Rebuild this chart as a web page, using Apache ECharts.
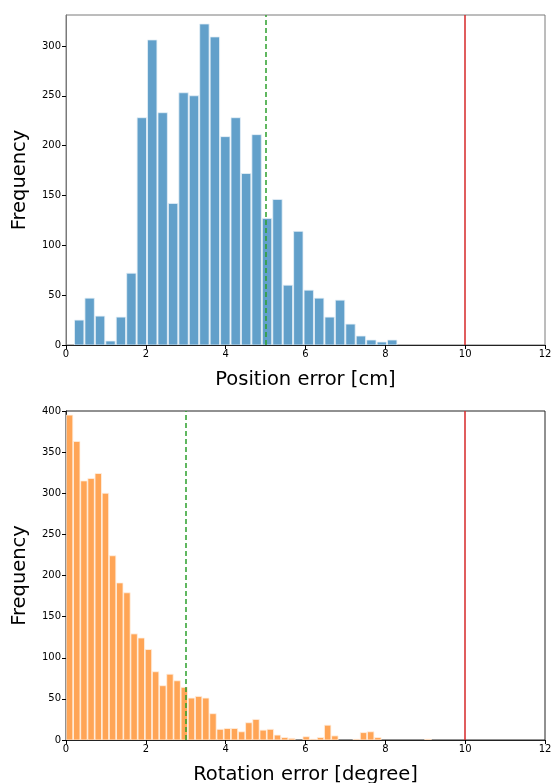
<!DOCTYPE html>
<html>
<head>
<meta charset="utf-8">
<script src="https://cdn.jsdelivr.net/npm/echarts@6/dist/echarts.min.js"></script>
<style>
html,body{margin:0;padding:0;background:#fff;}
#c{width:552px;height:783px;}
</style>
</head>
<body>
<div id="c"></div>
<script>
// ---- Data ----
const posBinStart = 0.2;
const posBinWidth = 0.2614;
const posCounts = [25, 47, 29, 4, 28, 72, 228, 306, 233, 142, 253, 250, 322, 309, 209,
                   228, 172, 211, 127, 146, 60, 114, 55, 47, 28, 45, 21, 9, 5, 3, 5];

const rotBinStart = 0.0;
const rotBinWidth = 0.1796;
const rotCounts = [395, 363, 315, 318, 324, 300, 224, 191, 179, 129, 124, 110, 83, 66, 80, 72,
                   64, 51, 53, 51, 32, 13, 14, 14, 10, 21, 25, 12, 13, 6, 3, 2, 0, 4,
                   1, 3, 18, 5, 0, 0, 1, 9, 10, 3, 0, 0, 0, 0, 0, 0, 1];

const xTicks = [0, 2, 4, 6, 8, 10, 12];
const posYTicks = [0, 50, 100, 150, 200, 250, 300];
const rotYTicks = [0, 50, 100, 150, 200, 250, 300, 350, 400];

const posThreshold = 5;    // green dashed
const posLimit = 10;       // red
const rotThreshold = 3;
const rotLimit = 10;

// ---- Build series data ----
function bins(start, width, counts) {
  return counts.map((c, i) => [start + i * width, start + (i + 1) * width, c]);
}

const FONT = 'DejaVu Sans';

function renderBar(color, edge) {
  return function (params, api) {
    const x0 = api.value(0), x1 = api.value(1), v = api.value(2);
    if (!v) return null;
    const w = x1 - x0;
    const a = api.coord([x0 + w * 0.05, v]);
    const b = api.coord([x1 - w * 0.05, 0]);
    return {
      type: 'rect',
      shape: { x: a[0], y: a[1], width: b[0] - a[0], height: b[1] - a[1] },
      style: { fill: color, stroke: edge, lineWidth: 0.8 }
    };
  };
}

function xAxisCfg(gridIndex, name, lineColor) {
  return {
    type: 'value', gridIndex, min: 0, max: 12, interval: 2,
    name, nameLocation: 'middle', nameGap: 25,
    nameTextStyle: { fontFamily: FONT, fontSize: 19.5, color: '#000' },
    axisLine: { show: true, onZero: false, lineStyle: { color: lineColor, width: 1 } },
    axisTick: { show: true, length: 4, customValues: xTicks, lineStyle: { color: '#000' } },
    axisLabel: { fontFamily: FONT, fontSize: 10, color: '#000', margin: 4, customValues: xTicks },
    splitLine: { show: false }
  };
}

function yAxisCfg(gridIndex, max, ticks, lineColor) {
  return {
    type: 'value', gridIndex, min: 0, max,
    name: 'Frequency', nameLocation: 'middle', nameGap: 36, nameRotate: 90,
    nameTextStyle: { fontFamily: FONT, fontSize: 19.5, color: '#000' },
    axisLine: { show: true, lineStyle: { color: lineColor, width: 1 } },
    axisTick: { show: true, length: 4, customValues: ticks, lineStyle: { color: '#000' } },
    axisLabel: { fontFamily: FONT, fontSize: 10, color: '#000', margin: 5, customValues: ticks },
    splitLine: { show: false }
  };
}

function vlines(thr, lim) {
  return {
    silent: true, symbol: 'none', label: { show: false },
    data: [
      { xAxis: thr, lineStyle: { color: '#2ca02c', type: [5, 3], width: 1.5 } },
      { xAxis: lim, lineStyle: { color: '#d62728', type: 'solid', width: 1.5 } }
    ]
  };
}

const chart = echarts.init(document.getElementById('c'), null, { renderer: 'canvas' });
chart.setOption({
  animation: false,
  backgroundColor: '#fff',
  grid: [
    { left: 66, right: 7, top: 15, height: 330, show: true, borderColor: '#7a7a7a', borderWidth: 1,
      outerBoundsMode: 'none', containLabel: false },
    { left: 66, right: 7, top: 411, height: 329, show: true, borderColor: '#222', borderWidth: 1,
      outerBoundsMode: 'none', containLabel: false }
  ],
  xAxis: [
    xAxisCfg(0, 'Position error [cm]', '#222'),
    xAxisCfg(1, 'Rotation error [degree]', '#222')
  ],
  yAxis: [
    yAxisCfg(0, 331, posYTicks, '#7a7a7a'),
    yAxisCfg(1, 400, rotYTicks, '#222')
  ],
  series: [
    {
      type: 'custom', xAxisIndex: 0, yAxisIndex: 0,
      renderItem: renderBar('#62a0ca', '#e6f0f7'),
      encode: { x: [0, 1], y: 2 },
      data: bins(posBinStart, posBinWidth, posCounts),
      markLine: vlines(posThreshold, posLimit),
      clip: true
    },
    {
      type: 'custom', xAxisIndex: 1, yAxisIndex: 1,
      renderItem: renderBar('#ffa556', '#fff0e2'),
      encode: { x: [0, 1], y: 2 },
      data: bins(rotBinStart, rotBinWidth, rotCounts),
      markLine: vlines(rotThreshold, rotLimit),
      clip: true
    }
  ]
});
</script>
</body>
</html>
